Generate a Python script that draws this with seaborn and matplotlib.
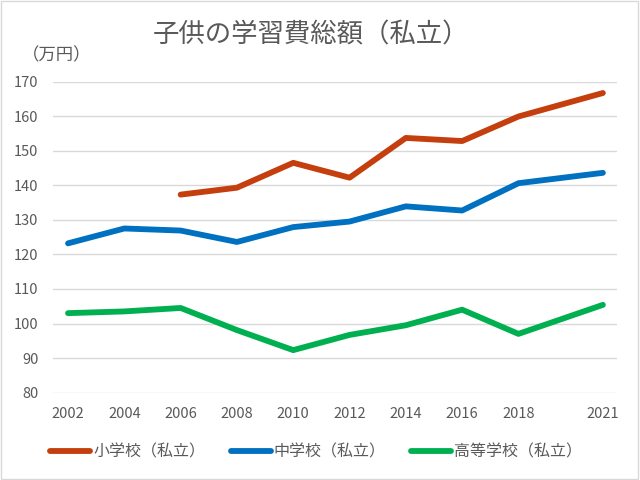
import pandas as pd
import numpy as np
import matplotlib
matplotlib.use("Agg")
import matplotlib.pyplot as plt
import seaborn as sns

# data (万円)
years = [2002, 2004, 2006, 2008, 2010, 2012, 2014, 2016, 2018, 2021]
elementary = [np.nan, np.nan, 137.3, 139.3, 146.5, 142.2, 153.7, 152.8, 159.9, 166.7]
junior_high = [123.2, 127.5, 126.9, 123.6, 127.9, 129.5, 133.9, 132.7, 140.6, 143.6]
high_school = [103.0, 103.5, 104.5, 98.1, 92.3, 96.7, 99.5, 104.0, 97.0, 105.4]
labels = ["小学校（私立）", "中学校（私立）", "高等学校（私立）"]
colors = ["#C43E0E", "#0070C0", "#00B050"]

df = pd.DataFrame({"year": years, labels[0]: elementary,
                   labels[1]: junior_high, labels[2]: high_school})
df = df.melt(id_vars="year", var_name="school", value_name="cost")

sns.set_style("white")
plt.rcParams["font.family"] = ["Noto Sans CJK JP", "DejaVu Sans"]
text_color = "#595959"

fig = plt.figure(figsize=(6.4, 4.8), dpi=100)
ax = fig.add_axes([0.083, 0.182, 0.881, 0.648])

sns.lineplot(data=df, x="year", y="cost", hue="school", hue_order=labels,
             palette=colors, linewidth=4.2, ax=ax, legend=False,
             solid_capstyle="round", solid_joinstyle="round")

ax.set_xlim(2001.47, 2021.5)
ax.set_ylim(80, 170)
ax.set_xticks(years)
ax.set_yticks(range(80, 171, 10))
ax.grid(axis="y", color="#D9D9D9", linewidth=1)
ax.set_axisbelow(True)
for s in ax.spines.values():
    s.set_visible(False)
ax.tick_params(axis="x", length=0, pad=10, labelsize=10.5, labelcolor=text_color)
ax.tick_params(axis="y", length=0, pad=10.5, labelsize=10.5, labelcolor=text_color)
ax.set_xlabel("")
ax.set_ylabel("")

fig.text(0.486, 0.927, "子供の学習費総額（私立）", ha="center", va="center",
         fontsize=19, color=text_color)
fig.text(0.034, 0.885, "（万円）", ha="left", va="center",
         fontsize=12.5, color=text_color)

handles = [plt.Line2D([], [], color=c, linewidth=4.2, solid_capstyle="round")
           for c in colors]
fig.legend(handles, labels, loc="center", bbox_to_anchor=(0.494, 0.058),
           ncol=3, frameon=False, fontsize=11.5, handlelength=2.5,
           handletextpad=0.2, columnspacing=1.6, labelcolor=text_color)

fig.add_artist(plt.Rectangle((0.002, 0.003), 0.995, 0.994, transform=fig.transFigure,
                             fill=False, edgecolor="#D9D9D9", linewidth=1))

fig.savefig("out.png", dpi=100)
